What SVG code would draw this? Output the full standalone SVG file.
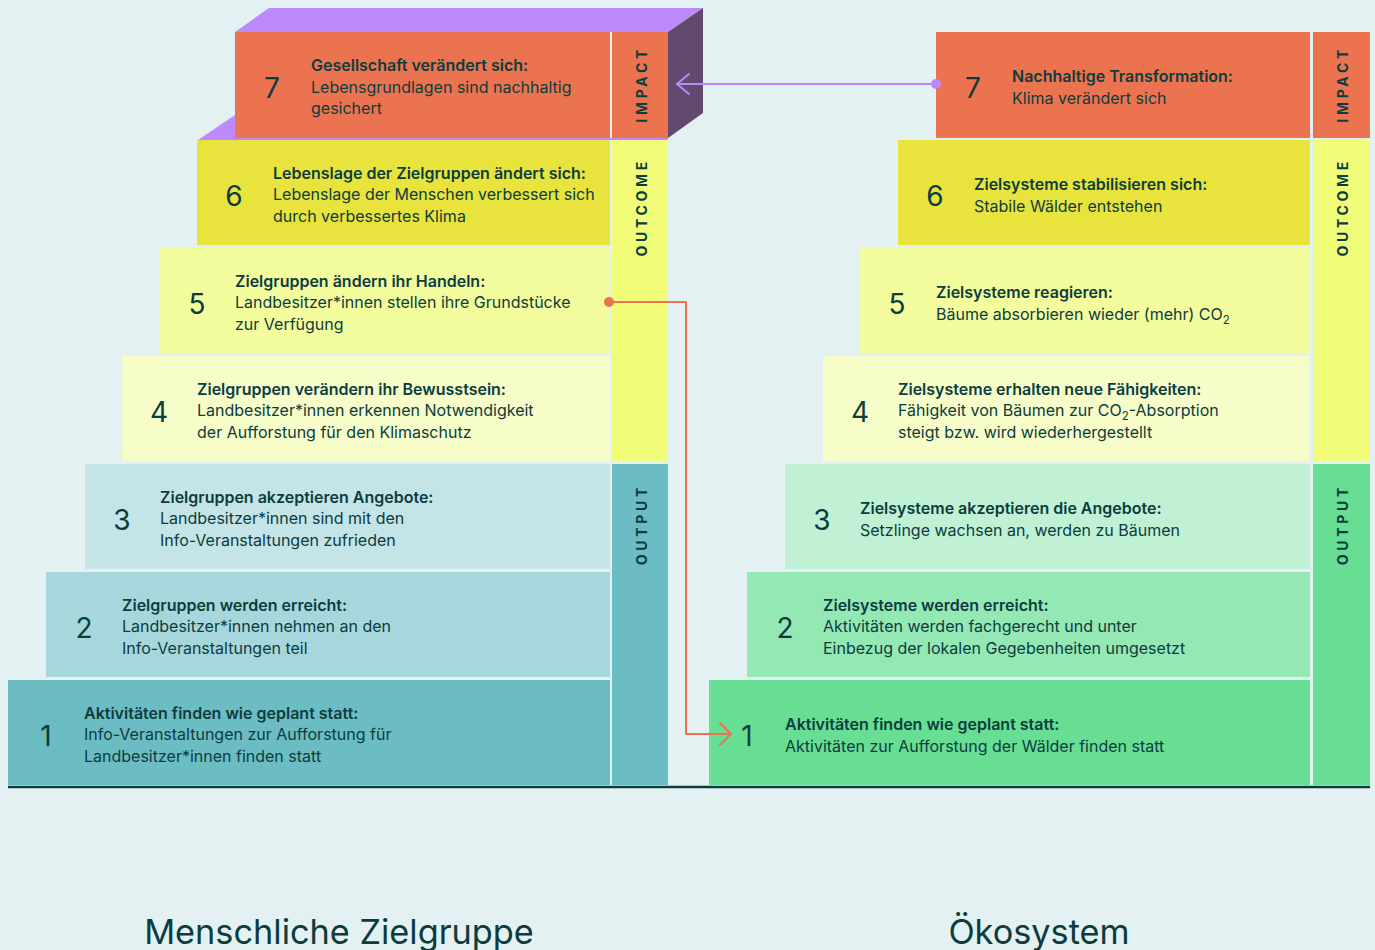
<svg xmlns="http://www.w3.org/2000/svg" width="1375" height="950" viewBox="0 0 1375 950">
  <style>
    text { font-family: Inter, "Noto Sans", "Liberation Sans", sans-serif; fill: #0c3c3d; }
    .num { font-size: 28px; font-weight: 400; text-anchor: middle; }
    .ttl { font-size: 16px; font-weight: 600; }
    .bdy { font-size: 16px; font-weight: 400; }
    .lvl { font-size: 14px; font-weight: 700; letter-spacing: 3.7px; text-anchor: end; dominant-baseline: central; }
    .cap { font-size: 34.3px; font-weight: 400; text-anchor: middle; }
    .sub { font-size: 11.5px; }
    .imp { fill: #ec734f; }
    .y6 { fill: #e8e43d; }
    .y5 { fill: #f3fd9d; }
    .y4 { fill: #f6fdc9; }
    .oc { fill: #f1fc79; }
    .t3 { fill: #c4e4e7; }
    .t2 { fill: #a7d7dc; }
    .t1 { fill: #6cbcc4; }
    .g3 { fill: #c0f1d5; }
    .g2 { fill: #94e8b4; }
    .g1 { fill: #68de95; }
    .wire { fill: none; stroke-width: 2; stroke-linecap: round; stroke-linejoin: round; }
  </style>

  <rect x="0" y="0" width="1375" height="950" fill="#e3f1f2"/>

  <!-- left stair: human target group -->
  <g id="box-left">
    <polygon points="235,32 269,8 703,8 668,32" fill="#bd8afc"/>
    <polygon points="668,32 703,8 703,113 668,138" fill="#624a6e"/>
    <polygon points="198,140 235,115 235,140" fill="#bd8afc"/>
    <rect x="235" y="138" width="433" height="2" fill="#bd8afc"/>
  </g>

  <g id="left-7">
    <rect class="imp" x="235" y="32" width="375" height="106"/>
    <text class="num" x="272" y="98">7</text>
    <text class="ttl" x="311" y="71">Gesellschaft verändert sich:</text>
    <text class="bdy" x="311" y="92.5">Lebensgrundlagen sind nachhaltig</text>
    <text class="bdy" x="311" y="114">gesichert</text>
  </g>
  <g id="left-6">
    <rect class="y6" x="197" y="140" width="413" height="105"/>
    <text class="num" x="234" y="205.5">6</text>
    <text class="ttl" x="273" y="178.5">Lebenslage der Zielgruppen ändert sich:</text>
    <text class="bdy" x="273" y="200">Lebenslage der Menschen verbessert sich</text>
    <text class="bdy" x="273" y="221.5">durch verbessertes Klima</text>
  </g>
  <g id="left-5">
    <rect class="y5" x="160" y="248" width="450" height="105"/>
    <text class="num" x="197" y="313.5">5</text>
    <text class="ttl" x="235" y="286.5">Zielgruppen ändern ihr Handeln:</text>
    <text class="bdy" x="235" y="308">Landbesitzer*innen stellen ihre Grundstücke</text>
    <text class="bdy" x="235" y="329.5">zur Verfügung</text>
  </g>
  <g id="left-4">
    <rect class="y4" x="122" y="356" width="488" height="105"/>
    <text class="num" x="159" y="421.5">4</text>
    <text class="ttl" x="197" y="394.5">Zielgruppen verändern ihr Bewusstsein:</text>
    <text class="bdy" x="197" y="416">Landbesitzer*innen erkennen Notwendigkeit</text>
    <text class="bdy" x="197" y="437.5">der Aufforstung für den Klimaschutz</text>
  </g>
  <g id="left-3">
    <rect class="t3" x="85" y="464" width="525" height="105"/>
    <text class="num" x="122" y="529.5">3</text>
    <text class="ttl" x="160" y="502.5">Zielgruppen akzeptieren Angebote:</text>
    <text class="bdy" x="160" y="524">Landbesitzer*innen sind mit den</text>
    <text class="bdy" x="160" y="545.5">Info-Veranstaltungen zufrieden</text>
  </g>
  <g id="left-2">
    <rect class="t2" x="46" y="572" width="564" height="105"/>
    <text class="num" x="84" y="637.5">2</text>
    <text class="ttl" x="122" y="610.5">Zielgruppen werden erreicht:</text>
    <text class="bdy" x="122" y="632">Landbesitzer*innen nehmen an den</text>
    <text class="bdy" x="122" y="653.5">Info-Veranstaltungen teil</text>
  </g>
  <g id="left-1">
    <rect class="t1" x="8" y="680" width="602" height="105"/>
    <text class="num" x="46" y="745.5">1</text>
    <text class="ttl" x="84" y="718.5">Aktivitäten finden wie geplant statt:</text>
    <text class="bdy" x="84" y="740">Info-Veranstaltungen zur Aufforstung für</text>
    <text class="bdy" x="84" y="761.5">Landbesitzer*innen finden statt</text>
  </g>

  <g id="left-levels">
    <rect class="imp" x="612" y="32" width="56" height="106"/>
    <rect class="oc" x="612" y="140" width="56" height="321"/>
    <rect class="t1" x="612" y="464" width="56" height="321"/>
    <text class="lvl" transform="translate(641,46) rotate(-90)">IMPACT</text>
    <text class="lvl" transform="translate(641,158) rotate(-90)">OUTCOME</text>
    <text class="lvl" transform="translate(641,484) rotate(-90)">OUTPUT</text>
  </g>

  <!-- right stair: ecosystem -->
  <g id="right-7">
    <rect class="imp" x="936" y="32" width="374" height="106"/>
    <text class="num" x="973" y="98">7</text>
    <text class="ttl" x="1012" y="81.5">Nachhaltige Transformation:</text>
    <text class="bdy" x="1012" y="103.5">Klima verändert sich</text>
  </g>
  <g id="right-6">
    <rect class="y6" x="898" y="140" width="412" height="105"/>
    <text class="num" x="935" y="205.5">6</text>
    <text class="ttl" x="974" y="189.5">Zielsysteme stabilisieren sich:</text>
    <text class="bdy" x="974" y="211.5">Stabile Wälder entstehen</text>
  </g>
  <g id="right-5">
    <rect class="y5" x="860" y="248" width="450" height="105"/>
    <text class="num" x="897" y="313.5">5</text>
    <text class="ttl" x="936" y="297.5">Zielsysteme reagieren:</text>
    <text class="bdy" x="936" y="319.5">Bäume absorbieren wieder (mehr) CO<tspan class="sub" dy="4">2</tspan></text>
  </g>
  <g id="right-4">
    <rect class="y4" x="823" y="356" width="487" height="105"/>
    <text class="num" x="860" y="421.5">4</text>
    <text class="ttl" x="898" y="394.5">Zielsysteme erhalten neue Fähigkeiten:</text>
    <text class="bdy" x="898" y="416">Fähigkeit von Bäumen zur CO<tspan class="sub" dy="4">2</tspan><tspan dy="-4">-Absorption</tspan></text>
    <text class="bdy" x="898" y="437.5">steigt bzw. wird wiederhergestellt</text>
  </g>
  <g id="right-3">
    <rect class="g3" x="785" y="464" width="525" height="105"/>
    <text class="num" x="822" y="529.5">3</text>
    <text class="ttl" x="860" y="513.5">Zielsysteme akzeptieren die Angebote:</text>
    <text class="bdy" x="860" y="535.5">Setzlinge wachsen an, werden zu Bäumen</text>
  </g>
  <g id="right-2">
    <rect class="g2" x="747" y="572" width="563" height="105"/>
    <text class="num" x="785" y="637.5">2</text>
    <text class="ttl" x="823" y="610.5">Zielsysteme werden erreicht:</text>
    <text class="bdy" x="823" y="632">Aktivitäten werden fachgerecht und unter</text>
    <text class="bdy" x="823" y="653.5">Einbezug der lokalen Gegebenheiten umgesetzt</text>
  </g>
  <g id="right-1">
    <rect class="g1" x="709" y="680" width="601" height="105"/>
    <text class="num" x="747" y="745.5">1</text>
    <text class="ttl" x="785" y="729.5">Aktivitäten finden wie geplant statt:</text>
    <text class="bdy" x="785" y="751.5">Aktivitäten zur Aufforstung der Wälder finden statt</text>
  </g>

  <g id="right-levels">
    <rect class="imp" x="1313" y="32" width="57" height="106"/>
    <rect class="oc" x="1313" y="140" width="57" height="321"/>
    <rect class="g1" x="1313" y="464" width="57" height="321"/>
    <text class="lvl" transform="translate(1342,46) rotate(-90)">IMPACT</text>
    <text class="lvl" transform="translate(1342,158) rotate(-90)">OUTCOME</text>
    <text class="lvl" transform="translate(1342,484) rotate(-90)">OUTPUT</text>
  </g>

  <!-- ground line -->
  <line x1="8" y1="787" x2="1370" y2="787" stroke="#0c3c3d" stroke-width="2.5"/>

  <!-- connectors -->
  <g id="connectors">
    <g id="impact-link">
      <line class="wire" x1="936" y1="84" x2="677" y2="84" stroke="#bb88fc"/>
      <polyline class="wire" points="689,74 677,84 689,94" stroke="#bb88fc"/>
      <circle cx="936" cy="84" r="5" fill="#bb88fc"/>
    </g>
    <g id="action-link">
      <polyline class="wire" points="609,302 686,302 686,734 731,734" stroke="#ec734f"/>
      <polyline class="wire" points="720,723 731,734 720,745" stroke="#ec734f"/>
      <circle cx="609" cy="302" r="5" fill="#ec734f"/>
    </g>
  </g>

  <!-- captions -->
  <text class="cap" x="339" y="944">Menschliche Zielgruppe</text>
  <text class="cap" x="1039" y="944">Ökosystem</text>
</svg>
